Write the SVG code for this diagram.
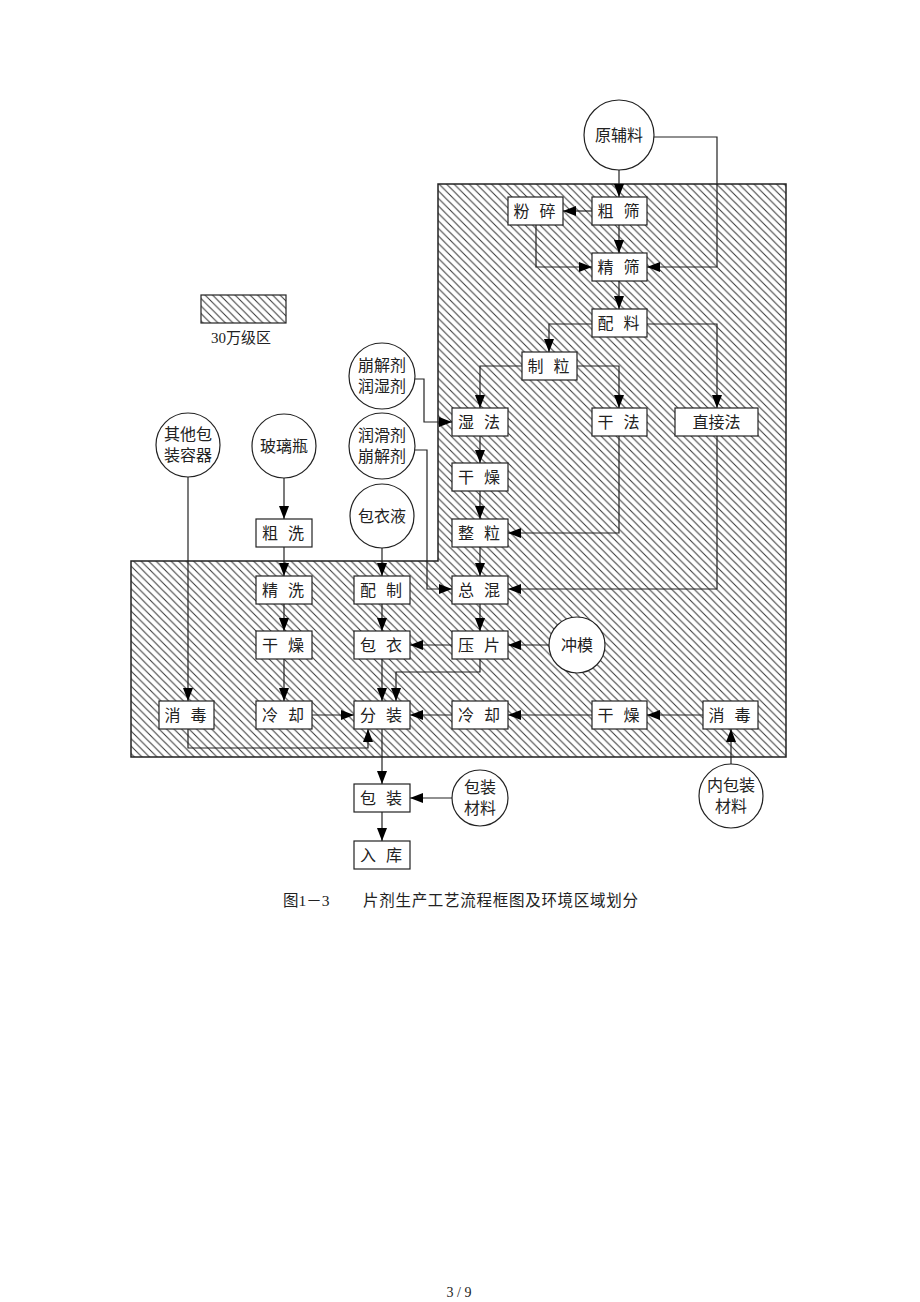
<svg xmlns="http://www.w3.org/2000/svg" width="920" height="1302" viewBox="0 0 920 1302">
<defs>
<pattern id="hatch" patternUnits="userSpaceOnUse" width="7.5" height="7.5">
<path d="M-1,-1 L8.5,8.5 M-1,6.5 L1,8.5 M6.5,-1 L8.5,1" stroke="#333" stroke-width="1"/>
</pattern>
<marker id="arr" markerUnits="userSpaceOnUse" markerWidth="13" markerHeight="11" refX="13" refY="5.5" orient="auto">
<path d="M0,0.5 L13,5.5 L0,10.5 z" fill="#000"/>
</marker>
<style>
.box{fill:#fff;stroke:#222;stroke-width:1.2}
.cir{fill:#fff;stroke:#222;stroke-width:1.2}
.t{font-family:"Liberation Serif","Noto Sans CJK SC",serif;font-size:16px;fill:#222;text-anchor:middle}
.c{fill:none;stroke:#222;stroke-width:1.2;marker-end:url(#arr)}
.cap{font-family:"Liberation Serif","Noto Sans CJK SC",serif;font-size:15.5px;fill:#222}
</style>
</defs>
<rect width="920" height="1302" fill="#fff"/>
<g id="zone">
<path d="M438,184 H786 V757 H131 V561 H438 Z" fill="url(#hatch)" stroke="#222" stroke-width="1.5"/>
</g>
<g id="legend">
<rect x="201" y="295" width="85" height="28" fill="url(#hatch)" stroke="#222" stroke-width="1.2"/>
<text class="t" x="241" y="343" style="font-size:15px">30万级区</text>
</g>
<g id="connectors">
<path class="c" d="M619,170 V197"/>
<path class="c" d="M654,137 H717 V267 H647"/>
<path class="c" d="M592,211 H563"/>
<path class="c" d="M536,225 V267 H592"/>
<path class="c" d="M619,225 V253"/>
<path class="c" d="M619,281 V309"/>
<path class="c" d="M592,324 H549 V352"/>
<path class="c" d="M647,324 H717 V408"/>
<path class="c" d="M522,366 H480 V408"/>
<path class="c" d="M577,366 H619 V408"/>
<path class="c" d="M415,379 H424 V422 H452"/>
<path class="c" d="M480,436 V463"/>
<path class="c" d="M480,491 V519"/>
<path class="c" d="M619,436 V533 H508"/>
<path class="c" d="M480,547 V576"/>
<path class="c" d="M717,436 V589 H508"/>
<path class="c" d="M415,450 H427 V589 H452"/>
<path class="c" d="M480,603 V631"/>
<path class="c" d="M549,645 H508"/>
<path class="c" d="M452,645 H410"/>
<path class="c" d="M382,603 V631"/>
<path class="c" d="M382,548 V576"/>
<path class="c" d="M382,659 V701"/>
<path class="c" d="M480,659 V672 H396 V701"/>
<path class="c" d="M452,715 H410"/>
<path class="c" d="M592,715 H508"/>
<path class="c" d="M703,715 H647"/>
<path class="c" d="M731,764 V729"/>
<path class="c" d="M284,478 V519"/>
<path class="c" d="M284,547 V576"/>
<path class="c" d="M284,603 V631"/>
<path class="c" d="M284,659 V701"/>
<path class="c" d="M312,715 H354"/>
<path class="c" d="M188,477 V701"/>
<path class="c" d="M188,729 V748 H368 V729"/>
<path class="c" d="M382,729 V784"/>
<path class="c" d="M452,798 H410"/>
<path class="c" d="M382,812 V841"/>
</g>
<g id="n_yuanfuliao"><circle class="cir" cx="619" cy="135" r="35"/><text class="t" x="619" y="141">原辅料</text></g>
<g id="n_cushai"><rect class="box" x="592" y="197" width="55" height="28"/><text class="t" y="217"><tspan x="607.5">粗</tspan> <tspan x="631.5">筛</tspan></text></g>
<g id="n_fensui"><rect class="box" x="508" y="197" width="55" height="28"/><text class="t" y="217"><tspan x="523.5">粉</tspan> <tspan x="547.5">碎</tspan></text></g>
<g id="n_jingshai"><rect class="box" x="592" y="253" width="55" height="28"/><text class="t" y="273"><tspan x="607.5">精</tspan> <tspan x="631.5">筛</tspan></text></g>
<g id="n_peiliao"><rect class="box" x="592" y="309" width="55" height="28"/><text class="t" y="329"><tspan x="607.5">配</tspan> <tspan x="631.5">料</tspan></text></g>
<g id="n_zhili"><rect class="box" x="522" y="352" width="55" height="28"/><text class="t" y="372"><tspan x="537.5">制</tspan> <tspan x="561.5">粒</tspan></text></g>
<g id="n_shifa"><rect class="box" x="452" y="408" width="56" height="28"/><text class="t" y="428"><tspan x="468">湿</tspan> <tspan x="492">法</tspan></text></g>
<g id="n_ganfa"><rect class="box" x="592" y="408" width="55" height="28"/><text class="t" y="428"><tspan x="607.5">干</tspan> <tspan x="631.5">法</tspan></text></g>
<g id="n_zhijiefa"><rect class="box" x="675" y="408" width="83" height="28"/><text class="t" x="716.5" y="428">直接法</text></g>
<g id="n_ganzao1"><rect class="box" x="452" y="463" width="56" height="28"/><text class="t" y="483"><tspan x="468">干</tspan> <tspan x="492">燥</tspan></text></g>
<g id="n_zhengli"><rect class="box" x="452" y="519" width="56" height="28"/><text class="t" y="539"><tspan x="468">整</tspan> <tspan x="492">粒</tspan></text></g>
<g id="n_zonghun"><rect class="box" x="452" y="576" width="56" height="28"/><text class="t" y="596"><tspan x="468">总</tspan> <tspan x="492">混</tspan></text></g>
<g id="n_yapian"><rect class="box" x="452" y="631" width="56" height="28"/><text class="t" y="651"><tspan x="468">压</tspan> <tspan x="492">片</tspan></text></g>
<g id="n_lengque2"><rect class="box" x="452" y="701" width="56" height="28"/><text class="t" y="721"><tspan x="468">冷</tspan> <tspan x="492">却</tspan></text></g>
<g id="n_ganzao3"><rect class="box" x="592" y="701" width="55" height="28"/><text class="t" y="721"><tspan x="607.5">干</tspan> <tspan x="631.5">燥</tspan></text></g>
<g id="n_xiaodu2"><rect class="box" x="703" y="701" width="55" height="28"/><text class="t" y="721"><tspan x="718.5">消</tspan> <tspan x="742.5">毒</tspan></text></g>
<g id="n_chongmo"><circle class="cir" cx="577" cy="645" r="28"/><text class="t" x="577" y="651">冲模</text></g>
<g id="n_bengjie1"><circle class="cir" cx="382" cy="376" r="33"/><text class="t" x="382" y="371">崩解剂</text><text class="t" x="382" y="392">润湿剂</text></g>
<g id="n_runhua"><circle class="cir" cx="382" cy="446" r="33"/><text class="t" x="382" y="441">润滑剂</text><text class="t" x="382" y="462">崩解剂</text></g>
<g id="n_baoyiye"><circle class="cir" cx="382" cy="516" r="32"/><text class="t" x="382" y="522">包衣液</text></g>
<g id="n_boliping"><circle class="cir" cx="284" cy="446" r="32"/><text class="t" x="284" y="452">玻璃瓶</text></g>
<g id="n_qita"><circle class="cir" cx="188" cy="445" r="32"/><text class="t" x="188" y="440">其他包</text><text class="t" x="188" y="461">装容器</text></g>
<g id="n_cuxi"><rect class="box" x="256" y="519" width="56" height="28"/><text class="t" y="539"><tspan x="272">粗</tspan> <tspan x="296">洗</tspan></text></g>
<g id="n_jingxi"><rect class="box" x="256" y="576" width="56" height="28"/><text class="t" y="596"><tspan x="272">精</tspan> <tspan x="296">洗</tspan></text></g>
<g id="n_peizhi"><rect class="box" x="354" y="576" width="56" height="28"/><text class="t" y="596"><tspan x="370">配</tspan> <tspan x="394">制</tspan></text></g>
<g id="n_ganzao2"><rect class="box" x="256" y="631" width="56" height="28"/><text class="t" y="651"><tspan x="272">干</tspan> <tspan x="296">燥</tspan></text></g>
<g id="n_baoyi"><rect class="box" x="354" y="631" width="56" height="28"/><text class="t" y="651"><tspan x="370">包</tspan> <tspan x="394">衣</tspan></text></g>
<g id="n_xiaodu1"><rect class="box" x="159" y="701" width="55" height="28"/><text class="t" y="721"><tspan x="174.5">消</tspan> <tspan x="198.5">毒</tspan></text></g>
<g id="n_lengque1"><rect class="box" x="256" y="701" width="56" height="28"/><text class="t" y="721"><tspan x="272">冷</tspan> <tspan x="296">却</tspan></text></g>
<g id="n_fenzhuang"><rect class="box" x="354" y="701" width="56" height="28"/><text class="t" y="721"><tspan x="370">分</tspan> <tspan x="394">装</tspan></text></g>
<g id="n_baozhuang"><rect class="box" x="354" y="784" width="56" height="28"/><text class="t" y="804"><tspan x="370">包</tspan> <tspan x="394">装</tspan></text></g>
<g id="n_ruku"><rect class="box" x="354" y="841" width="56" height="28"/><text class="t" y="861"><tspan x="370">入</tspan> <tspan x="394">库</tspan></text></g>
<g id="n_baozhuangcailiao"><circle class="cir" cx="480" cy="798" r="28"/><text class="t" x="480" y="793">包装</text><text class="t" x="480" y="814">材料</text></g>
<g id="n_neibaozhuang"><circle class="cir" cx="731" cy="796" r="32"/><text class="t" x="731" y="791">内包装</text><text class="t" x="731" y="812">材料</text></g>
<g id="caption">
<text class="cap" x="283" y="906">图1－3</text>
<text class="cap" x="363" y="906" textLength="275">片剂生产工艺流程框图及环境区域划分</text>
<text x="459" y="1297" style="font-family:'Liberation Serif',serif;font-size:14px;fill:#222;text-anchor:middle">3 / 9</text>
</g>
</svg>
